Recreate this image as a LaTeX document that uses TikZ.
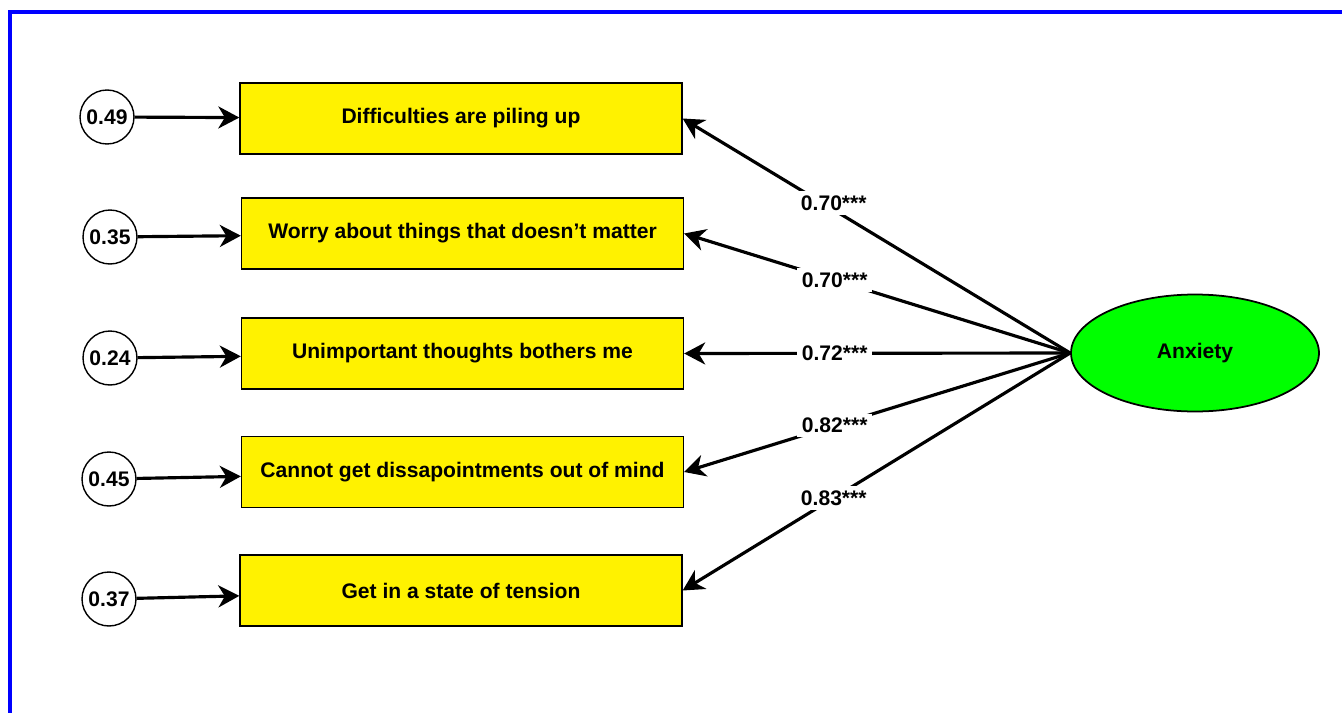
\documentclass[tikz,border=0pt]{standalone}
\usepackage{fontspec}
\setmainfont{Liberation Sans}
\usetikzlibrary{arrows.meta,shapes.geometric}
\begin{document}
\begin{tikzpicture}[
    x=0.02cm, y=-0.02cm,
    font=\fontsize{12}{14}\selectfont\bfseries,
    item/.style={draw, line width=0.8pt, fill=yellow, minimum width=8.84cm, minimum height=1.42cm, align=center},
    err/.style={draw, circle, line width=0.8pt, minimum size=1.08cm, inner sep=0pt},
    latent/.style={draw, ellipse, line width=1pt, fill=green, minimum width=4.96cm, minimum height=2.34cm},
    arrow/.style={-{Stealth[length=0.42cm, width=0.44cm, inset=0.13cm]}, line width=1.8pt},
    load/.style={fill=white, inner sep=2.5pt, pos=0.61}
]
    \useasboundingbox (0,0) rectangle (1342,713);

    % Frame
    \draw[blue, line width=2.2pt] (10,713) -- (10,12) -- (1342,12);

    % Items
    \node[item] (i1) at (461,118.5) {Difficulties are piling up};
    \node[item] (i2) at (462.5,233.5) {Worry about things that doesn’t matter};
    \node[item] (i3) at (462.5,353.5) {Unimportant thoughts bothers me};
    \node[item] (i4) at (462.5,472) {Cannot get dissapointments out of mind};
    \node[item] (i5) at (461,590.5) {Get in a state of tension};

    % Errors
    \node[err] (e1) at (107,117) {0.49};
    \node[err] (e2) at (110,237) {0.35};
    \node[err] (e3) at (110,358) {0.24};
    \node[err] (e4) at (109,479) {0.45};
    \node[err] (e5) at (109,599) {0.37};

    % Latent
    \node[latent] (anx) at (1195,353) {Anxiety};

    % Arrows
    \draw[arrow] (e1) -- (i1);
    \draw[arrow] (e2) -- (i2);
    \draw[arrow] (e3) -- (i3);
    \draw[arrow] (e4) -- (i4);
    \draw[arrow] (e5) -- (i5);
    \draw[arrow] (anx.west) -- node[load, yshift=4pt] {0.70***} (i1.east);
    \draw[arrow] (anx.west) -- node[load] {0.70***} (i2.east);
    \draw[arrow] (anx.west) -- node[load] {0.72***} (i3.east);
    \draw[arrow] (anx.west) -- node[load] {0.82***} (i4.east);
    \draw[arrow] (anx.west) -- node[load] {0.83***} (i5.east);
\end{tikzpicture}
\end{document}
